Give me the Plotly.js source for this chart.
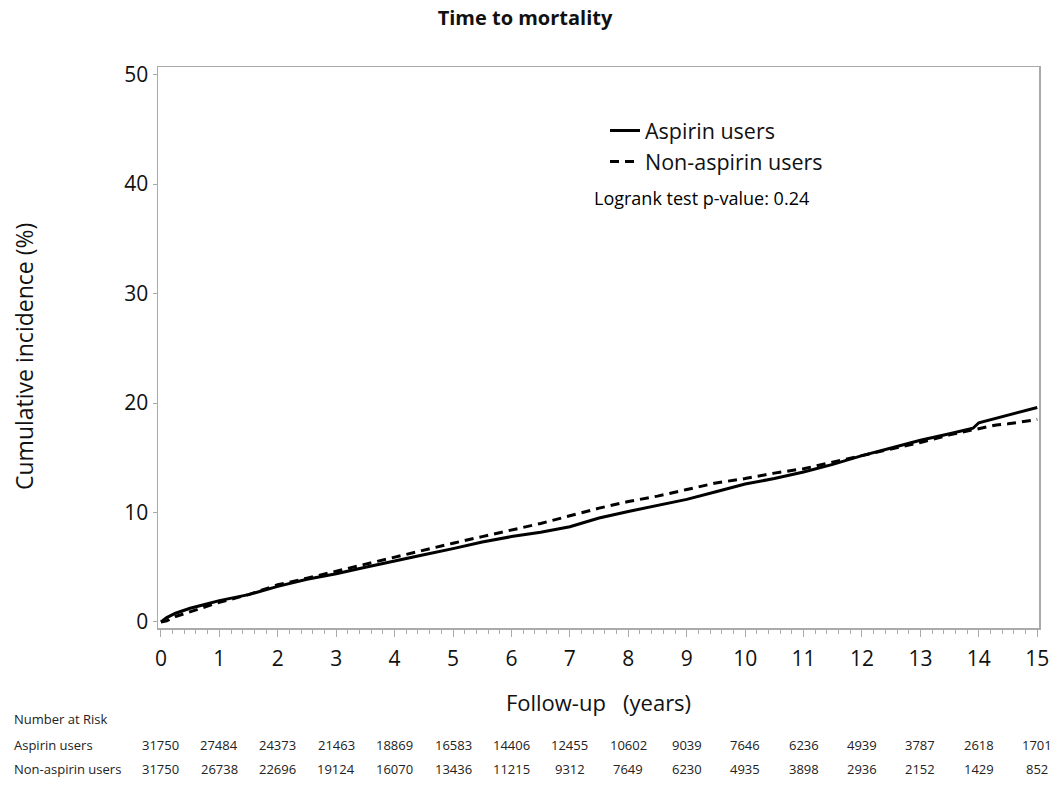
<!DOCTYPE html>
<html>
<head>
<meta charset="utf-8">
<script src="https://cdn.plot.ly/plotly-3.0.1.min.js"></script>
<style>html,body{margin:0;padding:0;background:#fff;}#chart{width:1061px;height:791px;}</style>
</head>
<body>
<div id="chart"></div>
<script>
// Follow-up time (years) and cumulative incidence (%)
const aspirinYears = [0, 0.1, 0.25, 0.5, 0.75, 1, 1.5, 2, 2.5, 3, 3.5, 4, 4.5, 5, 5.5, 6, 6.5, 7, 7.5, 8, 8.5, 9, 9.5, 10, 10.5, 11, 11.5, 12, 12.5, 13, 13.5, 13.9, 14, 14.5, 15];
const aspirinIncidence = [0, 0.4, 0.8, 1.25, 1.6, 1.95, 2.5, 3.25, 3.9, 4.4, 5.0, 5.6, 6.15, 6.7, 7.3, 7.8, 8.2, 8.7, 9.5, 10.1, 10.65, 11.2, 11.9, 12.6, 13.1, 13.7, 14.4, 15.2, 15.9, 16.6, 17.2, 17.7, 18.2, 18.9, 19.6];

const nonAspirinYears = [0, 0.1, 0.25, 0.5, 0.75, 1, 1.5, 2, 2.5, 3, 3.5, 4, 4.5, 5, 5.5, 6, 6.5, 7, 7.5, 8, 8.5, 9, 9.5, 10, 10.5, 11, 11.5, 12, 12.5, 13, 13.5, 14, 14.3, 14.5, 15];
const nonAspirinIncidence = [0, 0.1, 0.5, 0.95, 1.35, 1.8, 2.5, 3.4, 4.0, 4.65, 5.3, 5.95, 6.55, 7.2, 7.8, 8.4, 9.0, 9.7, 10.4, 11.0, 11.5, 12.1, 12.7, 13.1, 13.6, 14.0, 14.6, 15.2, 15.8, 16.4, 17.1, 17.7, 18.0, 18.1, 18.5];

// Number at risk table
const riskYears = [0, 1, 2, 3, 4, 5, 6, 7, 8, 9, 10, 11, 12, 13, 14, 15];
const riskAspirin = [31750, 27484, 24373, 21463, 18869, 16583, 14406, 12455, 10602, 9039, 7646, 6236, 4939, 3787, 2618, 1701];
const riskNonAspirin = [31750, 26738, 22696, 19124, 16070, 13436, 11215, 9312, 7649, 6230, 4935, 3898, 2936, 2152, 1429, 852];
const groupNames = ["Aspirin users", "Non-aspirin users"];

const FONT = "Open Sans, Noto Sans, DejaVu Sans, sans-serif";
const H = 791, marginB = 163, plotH = 561, marginL = 158, plotW = 881;
// convert page pixel position to paper coordinate
function py2paper(py) { return (H - marginB - py) / plotH; }
function px2paper(px) { return (px - marginL) / plotW; }

const traces = [
  {x: aspirinYears, y: aspirinIncidence, name: groupNames[0], type: 'scatter', mode: 'lines',
   line: {color: '#000', width: 3, dash: 'solid'}},
  {x: nonAspirinYears, y: nonAspirinIncidence, name: groupNames[1], type: 'scatter', mode: 'lines',
   line: {color: '#000', width: 3, dash: '9px,6px'}}
];

const annotations = [];
annotations.push({text: 'Cumulative incidence (%)', xref: 'paper', yref: 'paper',
  x: px2paper(24), y: py2paper(357), xanchor: 'center', yanchor: 'middle', textangle: -90, showarrow: false,
  font: {family: FONT, size: 23, color: '#111'}});
annotations.push({text: 'Logrank test p-value: 0.24', xref: 'paper', yref: 'paper',
  x: px2paper(592), y: py2paper(198), xanchor: 'left', yanchor: 'middle', showarrow: false,
  font: {family: FONT, size: 18, color: '#000'}});
annotations.push({text: 'Number at Risk', xref: 'paper', yref: 'paper',
  x: px2paper(12), y: py2paper(719), xanchor: 'left', yanchor: 'middle', showarrow: false,
  font: {family: FONT, size: 13, color: '#222'}});
const rows = [riskAspirin, riskNonAspirin];
const rowY = [745, 769];
rows.forEach((vals, r) => {
  annotations.push({text: groupNames[r], xref: 'paper', yref: 'paper',
    x: px2paper(12), y: py2paper(rowY[r]), xanchor: 'left', yanchor: 'middle', showarrow: false,
    font: {family: FONT, size: 13, color: '#222'}});
  vals.forEach((v, i) => {
    annotations.push({text: String(v), xref: 'x', yref: 'paper', x: riskYears[i], y: py2paper(rowY[r]),
      xanchor: 'center', yanchor: 'middle', showarrow: false,
      font: {family: FONT, size: 13, color: '#222'}});
  });
});

const layout = {
  width: 1061, height: 791,
  margin: {l: 158, r: 22, t: 67, b: 163},
  paper_bgcolor: '#fff', plot_bgcolor: '#fff',
  font: {family: FONT, color: '#111'},
  title: {text: '<b>Time to mortality</b>', xref: 'container', x: 525 / 1061, xanchor: 'center',
    y: 1 - 18 / 791, yanchor: 'middle',
    font: {family: FONT, size: 20, color: '#111'}},
  xaxis: {
    range: [-0.05, 15.03], tickmode: 'linear', tick0: 0, dtick: 1,
    ticks: 'outside', ticklen: 7, tickwidth: 1, tickcolor: '#aaa',
    minor: {dtick: 0.2, ticks: 'outside', ticklen: 4, tickcolor: '#aaa', showgrid: false},
    showline: true, linecolor: '#aaa', linewidth: 1.5, mirror: true,
    showgrid: false, zeroline: false, ticklabelstandoff: 4,
    tickfont: {family: FONT, size: 21, color: '#111'},
    title: {text: 'Follow-up &nbsp;&nbsp;(years)', standoff: 25, font: {family: FONT, size: 22, color: '#111'}}
  },
  yaxis: {
    range: [-0.55, 50.7], tickmode: 'linear', tick0: 0, dtick: 10,
    ticks: 'outside', ticklen: 4, tickwidth: 1, tickcolor: '#aaa',
    showline: true, linecolor: '#aaa', linewidth: 1.5, mirror: true,
    showgrid: false, zeroline: false,
    tickfont: {family: FONT, size: 21, color: '#111'}
  },
  showlegend: true,
  legend: {x: px2paper(605), y: py2paper(110), xanchor: 'left', yanchor: 'top',
    bgcolor: 'rgba(0,0,0,0)', font: {family: FONT, size: 21.5, color: '#111'},
    tracegroupgap: 0, itemwidth: 30},
  annotations: annotations
};

Plotly.newPlot('chart', traces, layout, {displayModeBar: false, staticPlot: true});
</script>
</body>
</html>
